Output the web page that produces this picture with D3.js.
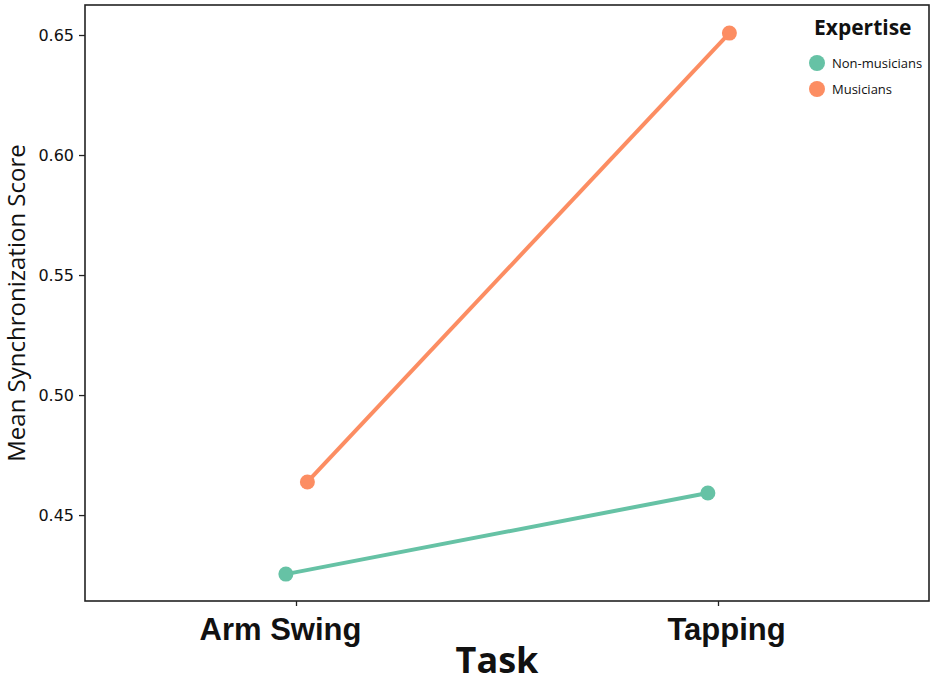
<!DOCTYPE html>
<html lang="en">
<head>
<meta charset="UTF-8">
<title>Mean Synchronization Score by Task</title>
<script src="https://d3js.org/d3.v7.min.js"></script>
<style>
  body { margin: 0; background: #fff; }
  svg { display: block; font-family: "Open Sans", "Noto Sans", sans-serif; }
</style>
</head>
<body>
<div id="chart"></div>
<script>
// data
const tasks = ["Arm Swing", "Tapping"];
const groups = ["Non-musicians", "Musicians"];
const nonMusicians = [0.4254, 0.4592];
const musicians = [0.4638, 0.6508];
const yTicks = [0.45, 0.50, 0.55, 0.60, 0.65];
const colors = ["#66c2a5", "#fc8d62"];
const dodge = [-0.024, 0.027];

const width = 935, height = 683;
const margin = { top: 5, right: 6, bottom: 82, left: 85 };

const svg = d3.select("#chart").append("svg")
    .attr("width", width)
    .attr("height", height);

const x = d3.scaleLinear()
    .domain([0.5, 2.5])
    .range([margin.left, width - margin.right]);

const y = d3.scaleLinear()
    .domain([0.4142, 0.6625])
    .range([height - margin.bottom, margin.top]);

// panel border
svg.append("rect")
    .attr("x", margin.left)
    .attr("y", margin.top)
    .attr("width", width - margin.right - margin.left)
    .attr("height", height - margin.bottom - margin.top)
    .attr("fill", "none")
    .attr("stroke", "#222")
    .attr("stroke-width", 1.6);

// y axis
const yAxis = svg.append("g")
    .attr("transform", `translate(${margin.left},0)`)
    .call(d3.axisLeft(y).tickValues(yTicks).tickFormat(d3.format(".2f")).tickSizeOuter(0).tickSize(6));
yAxis.select(".domain").remove();
yAxis.selectAll("line").attr("stroke", "#222").attr("stroke-width", 1.3);
yAxis.selectAll("text").attr("font-size", 16).attr("fill", "#111").attr("dx", -2)
    .attr("font-family", "'DejaVu Sans', sans-serif");

// x axis
const xAxis = svg.append("g")
    .attr("transform", `translate(0,${height - margin.bottom})`)
    .call(d3.axisBottom(x).tickValues([1, 2]).tickFormat(d => tasks[d - 1]).tickSize(5).tickSizeOuter(0));
xAxis.select(".domain").remove();
xAxis.selectAll("line").attr("stroke", "#222").attr("stroke-width", 1.3);
xAxis.selectAll("text")
    .attr("font-size", 31)
    .attr("font-weight", "bold")
    .attr("fill", "#111")
    .attr("dx", d => d === 1 ? -16 : 8)
    .attr("dy", "1.0em");

// axis titles
svg.append("text")
    .attr("transform", `translate(25,${(margin.top + height - margin.bottom) / 2}) rotate(-90)`)
    .attr("text-anchor", "middle")
    .attr("font-size", 24)
    .attr("fill", "#111")
    .text("Mean Synchronization Score");

svg.append("text")
    .attr("x", 497)
    .attr("y", 673)
    .attr("text-anchor", "middle")
    .attr("font-size", 36)
    .attr("font-weight", "bold")
    .attr("fill", "#111")
    .text("Task");

// series
const series = [nonMusicians, musicians].map((vals, i) => ({
    name: groups[i],
    color: colors[i],
    points: vals.map((v, j) => ({ x: j + 1 + dodge[i], y: v }))
}));

const line = d3.line().x(d => x(d.x)).y(d => y(d.y));

const g = svg.selectAll(".series")
    .data(series)
    .enter().append("g")
    .attr("class", "series");

g.append("path")
    .attr("d", d => line(d.points))
    .attr("fill", "none")
    .attr("stroke", d => d.color)
    .attr("stroke-width", 4);

g.selectAll("circle")
    .data(d => d.points.map(p => ({ ...p, color: d.color })))
    .enter().append("circle")
    .attr("cx", d => x(d.x))
    .attr("cy", d => y(d.y))
    .attr("r", 7.5)
    .attr("fill", d => d.color);

// legend
const legend = svg.append("g").attr("transform", "translate(814,0)");
legend.append("text")
    .attr("x", 0)
    .attr("y", 35)
    .attr("font-size", 21)
    .attr("font-weight", "bold")
    .attr("fill", "#111")
    .text("Expertise");

const item = legend.selectAll(".item")
    .data(groups)
    .enter().append("g")
    .attr("transform", (d, i) => `translate(0,${63 + i * 26})`);
item.append("circle")
    .attr("cx", 3)
    .attr("cy", 0)
    .attr("r", 8)
    .attr("fill", (d, i) => colors[i]);
item.append("text")
    .attr("x", 18)
    .attr("y", 4.5)
    .attr("font-size", 13)
    .attr("fill", "#111")
    .text(d => d);
</script>
</body>
</html>
